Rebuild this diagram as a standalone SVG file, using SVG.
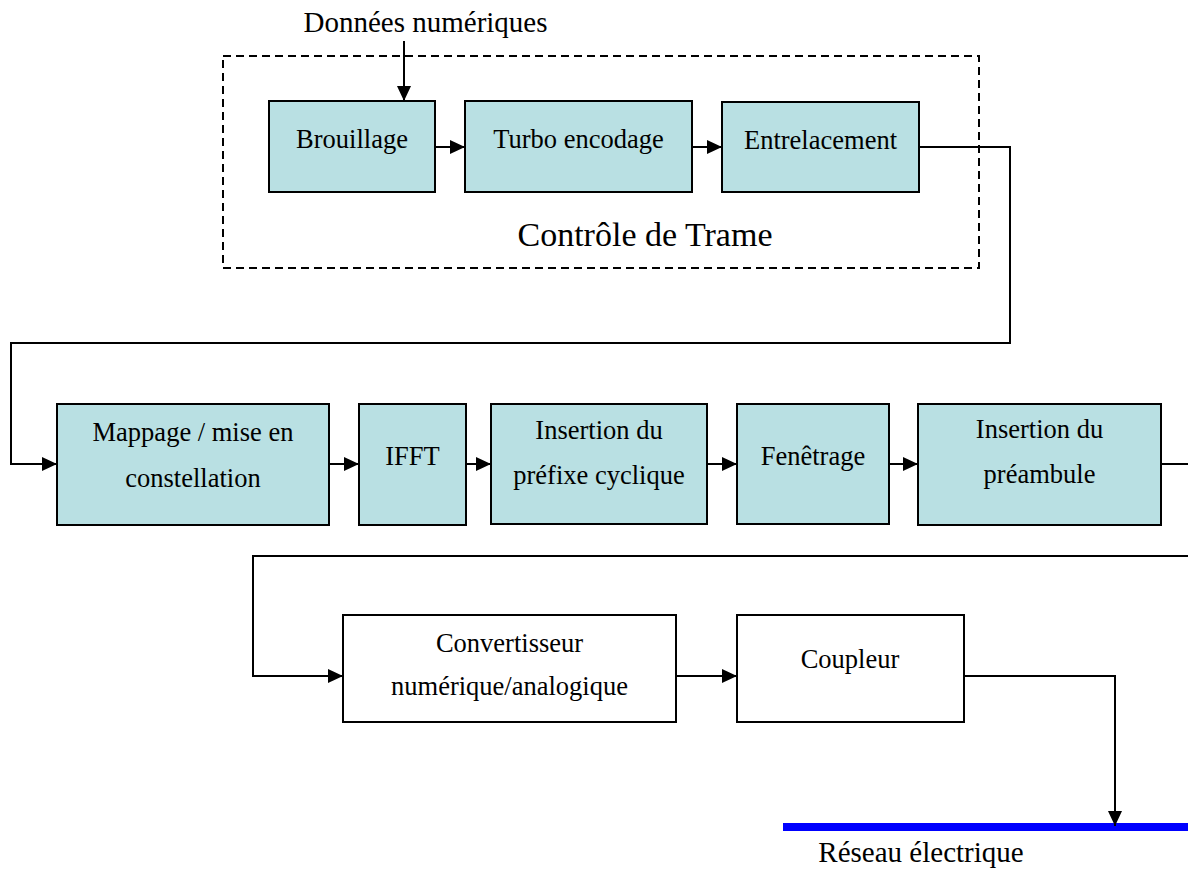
<svg xmlns="http://www.w3.org/2000/svg" width="1188" height="870" viewBox="0 0 1188 870">
<style>
.box{fill:#B9E0E3;stroke:#000;stroke-width:2}
.wbox{fill:#fff;stroke:#000;stroke-width:2}
.t{font-family:"Liberation Serif","Times New Roman",serif;font-size:26.5px;fill:#000;text-anchor:middle}
.lbl{font-family:"Liberation Serif","Times New Roman",serif;font-size:29px;fill:#000;text-anchor:middle}
.big{font-family:"Liberation Serif","Times New Roman",serif;font-size:34px;fill:#000;text-anchor:middle}
.c{fill:none;stroke:#000;stroke-width:2}
.ca{fill:none;stroke:#000;stroke-width:2;marker-end:url(#ah)}
</style>
<defs>
<marker id="ah" markerUnits="userSpaceOnUse" markerWidth="15" markerHeight="14" refX="15" refY="7" orient="auto">
<path d="M0,0 L15,7 L0,14 z" fill="#000"/>
</marker>
</defs>
<rect width="1188" height="870" fill="#fff"/>
<g id="frame-control">
<rect x="223" y="56" width="756" height="212" fill="none" stroke="#000" stroke-width="2" stroke-dasharray="8,5"/>
<text class="big" x="645" y="246">Contrôle de Trame</text>
</g>
<g id="input-label"><text class="lbl" x="425.5" y="32">Données numériques</text></g>
<g id="brouillage"><rect class="box" x="269" y="101" width="166" height="91"/><text class="t" x="352" y="148">Brouillage</text></g>
<g id="turbo"><rect class="box" x="465" y="101" width="227" height="91"/><text class="t" x="578.5" y="148">Turbo encodage</text></g>
<g id="entrelacement"><rect class="box" x="722" y="102" width="197" height="90"/><text class="t" x="820.5" y="149">Entrelacement</text></g>
<g id="mappage"><rect class="box" x="57" y="404" width="272" height="121"/><text class="t" x="193" y="441">Mappage / mise en</text><text class="t" x="193" y="487">constellation</text></g>
<g id="ifft"><rect class="box" x="359" y="404" width="107" height="121"/><text class="t" x="412.5" y="465">IFFT</text></g>
<g id="prefixe"><rect class="box" x="491" y="404" width="216" height="120"/><text class="t" x="599" y="439">Insertion du</text><text class="t" x="599" y="484">préfixe cyclique</text></g>
<g id="fenetrage"><rect class="box" x="737" y="404" width="152" height="120"/><text class="t" x="813" y="465">Fenêtrage</text></g>
<g id="preambule"><rect class="box" x="918" y="404" width="243" height="121"/><text class="t" x="1039.5" y="438">Insertion du</text><text class="t" x="1039.5" y="483">préambule</text></g>
<g id="convertisseur"><rect class="wbox" x="343" y="615" width="333" height="107"/><text class="t" x="509.5" y="652">Convertisseur</text><text class="t" x="509.5" y="695">numérique/analogique</text></g>
<g id="coupleur"><rect class="wbox" x="737" y="615" width="227" height="107"/><text class="t" x="850" y="668">Coupleur</text></g>
<g id="reseau"><rect x="783" y="823" width="405" height="8" fill="#0000FF"/><text class="lbl" x="921" y="862">Réseau électrique</text></g>
<g id="connectors">
<path class="ca" d="M404,41 V101"/>
<path class="ca" d="M435,147 H465"/>
<path class="ca" d="M692,147 H722"/>
<path class="ca" d="M919,147 H1010 V343 H11 V464 H57"/>
<path class="ca" d="M329,464 H359"/>
<path class="ca" d="M466,464 H491"/>
<path class="ca" d="M707,464 H737"/>
<path class="ca" d="M889,464 H918"/>
<path class="c" d="M1161,464 H1188"/>
<path class="ca" d="M1188,556 H253 V676 H343"/>
<path class="ca" d="M676,676 H737"/>
<path class="ca" d="M964,676 H1115 V826"/>
</g>
</svg>
